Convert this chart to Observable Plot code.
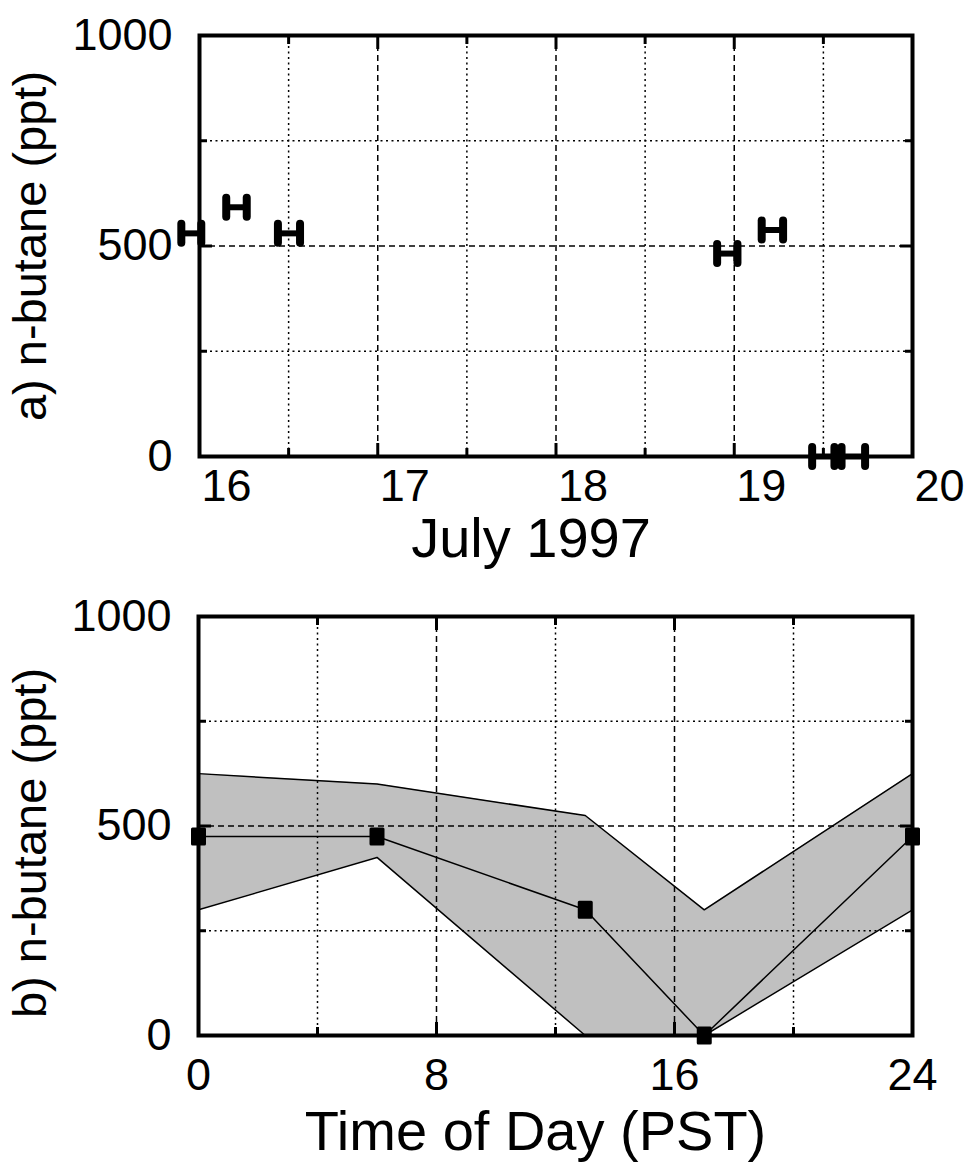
<!DOCTYPE html>
<html><head><meta charset="utf-8">
<script src="https://cdn.jsdelivr.net/npm/d3@7"></script>
<script src="https://cdn.jsdelivr.net/npm/@observablehq/plot@0.6"></script>
<style>
html,body{margin:0;padding:0;background:#fff;}
#chart{position:relative;width:966px;height:1176px;background:#fff;overflow:hidden;}
#chart svg{display:block;}
</style></head><body><div id="chart"></div>
<script>
// ---- Panel a: n-butane samples, July 1997 (day of month) ----
const barStart = [15.898, 16.150, 16.440, 18.904, 19.154, 19.437, 19.602];
const barEnd   = [16.010, 16.265, 16.564, 19.018, 19.274, 19.562, 19.734];
const barValue = [530, 592, 530, 482, 538, 0, 0];
const dayTicks = [16, 17, 18, 19, 20];
const dayMinor = [16.5, 17.5, 18.5, 19.5];

// ---- Panel b: diurnal mean with range ----
const hourOfDay = [0, 6, 13, 17, 24];
const meanValue = [475, 475, 300, 0, 475];
const lowValue  = [300, 425, 0, 0, 300];
const highValue = [625, 600, 525, 300, 625];
const hourTicks = [0, 8, 16, 24];
const hourMinor = [4, 12, 20];

const yTicks = [0, 500, 1000];
const yMinor = [250, 750];

const xLabelA = "July 1997";
const yLabelA = "a) n-butane (ppt)";
const xLabelB = "Time of Day (PST)";
const yLabelB = "b) n-butane (ppt)";

const FONT = "'Liberation Sans', Arial, Helvetica, sans-serif";

const bars = barStart.map((s, i) => ({x1: s, x2: barEnd[i], v: barValue[i]}));
const caps = bars.flatMap(b => [{x: b.x1, v: b.v}, {x: b.x2, v: b.v}]);
const diurnal = hourOfDay.map((h, i) => ({h, mean: meanValue[i], lo: lowValue[i], hi: highValue[i]}));

const capSymbol = {draw(ctx) { ctx.moveTo(0, -9.5); ctx.lineTo(0, 9.5); }};
const boxSymbol = {draw(ctx) { ctx.rect(-6, -7.5, 12, 15); }};
const fmt = d => String(d);

function grid(xMinor, xInner) {
  return [
    Plot.ruleX(xMinor, {stroke: "black", strokeWidth: 1.5, strokeDasharray: "2,3.5"}),
    Plot.ruleX(xInner, {stroke: "black", strokeWidth: 1.5, strokeDasharray: "6,4"}),
    Plot.ruleY(yMinor, {stroke: "black", strokeWidth: 1.5, strokeDasharray: "2,3.5"}),
    Plot.ruleY([500], {stroke: "black", strokeWidth: 1.5, strokeDasharray: "6,4"})
  ];
}
function innerTicks(xMajor, xMinor) {
  const o = {tickFormat: () => "", strokeWidth: 3, label: null};
  return [
    Plot.axisX(xMajor, {...o, anchor: "bottom", tickSize: -13}),
    Plot.axisX(xMinor, {...o, anchor: "bottom", tickSize: -8}),
    Plot.axisX(xMajor, {...o, anchor: "top", tickSize: -13}),
    Plot.axisX(xMinor, {...o, anchor: "top", tickSize: -8}),
    Plot.axisY(yTicks, {...o, anchor: "left", tickSize: -13}),
    Plot.axisY(yMinor, {...o, anchor: "left", tickSize: -8}),
    Plot.axisY(yTicks, {...o, anchor: "right", tickSize: -13}),
    Plot.axisY(yMinor, {...o, anchor: "right", tickSize: -8})
  ];
}
function labels(xTicks, xOpts, xLabel, yLabel, xPos, yPos) {
  return [
    Plot.axisX(xTicks, {anchor: "bottom", tickSize: 0, label: null, tickFormat: fmt, fontSize: 45, ...xOpts}),
    Plot.axisY(yTicks, {anchor: "left", tickSize: 0, tickPadding: 27, label: null, tickFormat: fmt, fontSize: 45}),
    Plot.text([xLabel], {text: d => d, frameAnchor: "bottom", dx: xPos[0], dy: xPos[1], fontSize: 56}),
    Plot.text([yLabel], {text: d => d, frameAnchor: "left", textAnchor: "middle", dx: yPos[0], dy: yPos[1], rotate: -90, fontSize: 47})
  ];
}

const common = {
  width: 966,
  marginLeft: 199, marginRight: 54,
  style: {fontFamily: FONT, color: "black", background: "white", overflow: "visible"},
  y: {domain: [0, 1000], axis: null}
};

const plotA = Plot.plot({
  ...common,
  height: 590, marginTop: 35, marginBottom: 134,
  x: {domain: [16, 20], axis: null},
  marks: [
    ...grid(dayMinor, [17, 18, 19]),
    ...innerTicks(dayTicks, dayMinor),
    Plot.frame({stroke: "black", strokeWidth: 4}),
    Plot.ruleY(bars, {y: "v", x1: "x1", x2: "x2", stroke: "black", strokeWidth: 6}),
    Plot.dot(caps, {x: "x", y: "v", symbol: capSymbol, stroke: "black", fill: "none", strokeWidth: 8, strokeLinecap: "round"}),
    ...labels(dayTicks, {tickPadding: 13, textAnchor: "start", dx: 2}, xLabelA, yLabelA, [-25, 100], [-169, 0])
  ]
});

const plotB = Plot.plot({
  ...common,
  marginLeft: 198,
  height: 586, marginTop: 26, marginBottom: 141,
  x: {domain: [0, 24], axis: null},
  marks: [
    Plot.areaY(diurnal, {x: "h", y1: "lo", y2: "hi", fill: "#c0c0c0"}),
    ...grid(hourMinor, [8, 16]),
    Plot.line(diurnal, {x: "h", y: "hi", stroke: "black", strokeWidth: 1.5}),
    Plot.line(diurnal, {x: "h", y: "lo", stroke: "black", strokeWidth: 1.5}),
    Plot.line(diurnal, {x: "h", y: "mean", stroke: "black", strokeWidth: 1.5}),
    ...innerTicks(hourTicks, hourMinor),
    Plot.frame({stroke: "black", strokeWidth: 4}),
    Plot.dot(diurnal, {x: "h", y: "mean", symbol: boxSymbol, fill: "black", stroke: "black", strokeWidth: 3, strokeLinejoin: "round"}),
    ...labels(hourTicks, {tickPadding: 23}, xLabelB, yLabelB, [-20, 114], [-168, 17])
  ]
});

const chart = document.getElementById("chart");
chart.appendChild(plotA);
chart.appendChild(plotB);
</script>
</body></html>
